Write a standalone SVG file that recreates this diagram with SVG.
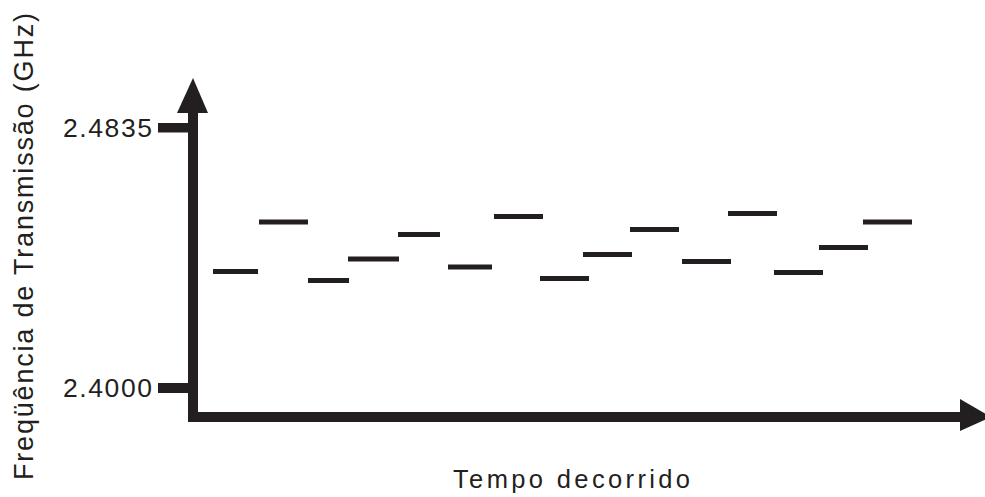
<svg xmlns="http://www.w3.org/2000/svg" width="985" height="497" viewBox="0 0 985 497">
<style>
.ink{fill:#231f20}
.lbl{font-family:"Liberation Sans",Arial,sans-serif;fill:#231f20}
.hop{stroke:#231f20;stroke-width:5;fill:none}
</style>
<rect width="985" height="497" fill="#ffffff"/>
<g id="axes">
<rect class="ink" x="188" y="108" width="10" height="314"/>
<rect class="ink" x="188" y="412" width="774" height="10"/>
<polygon class="ink" points="193,78 177,113 208,113"/>
<polygon class="ink" points="960,399 991,417 960,431"/>
<rect class="ink" x="158" y="123" width="31" height="9.5"/>
<rect class="ink" x="158" y="383" width="31" height="10"/>
</g>
<g id="labels">
<text class="lbl" x="63" y="137" font-size="26.5" textLength="89" lengthAdjust="spacing">2.4835</text>
<text class="lbl" x="63" y="397" font-size="26.5" textLength="89" lengthAdjust="spacing">2.4000</text>
<text class="lbl" x="453" y="488" font-size="25.5" textLength="237" lengthAdjust="spacing">Tempo decorrido</text>
<text class="lbl" transform="translate(33,480) rotate(-90)" x="0" y="0" font-size="27" textLength="467" lengthAdjust="spacing">Freqüência de Transmissão (GHz)</text>
</g>
<g id="hops">
<line class="hop" x1="213" y1="271.5" x2="258" y2="271.5"/>
<line class="hop" x1="259" y1="222" x2="308" y2="222"/>
<line class="hop" x1="308" y1="280.5" x2="349" y2="280.5"/>
<line class="hop" x1="348" y1="259" x2="399" y2="259"/>
<line class="hop" x1="398" y1="234.5" x2="440" y2="234.5"/>
<line class="hop" x1="448" y1="267" x2="492" y2="267"/>
<line class="hop" x1="494" y1="216.5" x2="543" y2="216.5"/>
<line class="hop" x1="540" y1="278.5" x2="589" y2="278.5"/>
<line class="hop" x1="583" y1="254.5" x2="632" y2="254.5"/>
<line class="hop" x1="630" y1="229.5" x2="679" y2="229.5"/>
<line class="hop" x1="682" y1="261.5" x2="731" y2="261.5"/>
<line class="hop" x1="728" y1="213.5" x2="777" y2="213.5"/>
<line class="hop" x1="774" y1="272.5" x2="823" y2="272.5"/>
<line class="hop" x1="819" y1="247.5" x2="868" y2="247.5"/>
<line class="hop" x1="863" y1="222" x2="912" y2="222"/>
</g>
</svg>
